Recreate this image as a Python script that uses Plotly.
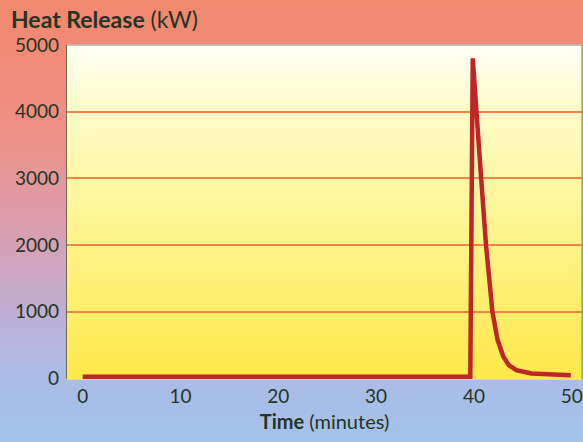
import plotly.graph_objects as go

# ---- data ----
time_min = [0, 39.63, 39.88, 40.23, 40.74, 41.24, 41.89, 42.42, 43.0, 43.57, 44.34, 45.86, 47.9, 49.9]
heat_kw = [25, 25, 4800, 4000, 3000, 2000, 1000, 580, 330, 200, 125, 75, 62, 50]
x_ticks = [0, 10, 20, 30, 40, 50]
y_ticks = [0, 1000, 2000, 3000, 4000, 5000]

W, H = 583, 442
L, R, T, B = 67, 1, 45, 63
PW, PH = W - L - R, H - T - B


def hex2rgb(h):
    h = h.lstrip('#')
    return tuple(int(h[i:i + 2], 16) for i in (0, 2, 4))


def interp(stops, f):
    for (p0, c0), (p1, c1) in zip(stops[:-1], stops[1:]):
        if p0 <= f <= p1:
            t = (f - p0) / (p1 - p0) if p1 > p0 else 0
            a, b = hex2rgb(c0), hex2rgb(c1)
            return 'rgb(%d,%d,%d)' % tuple(round(a[i] + (b[i] - a[i]) * t) for i in range(3))
    return stops[-1][1]


def bands(x0, x1, ytop, ybot, stops, n):
    out = []
    for i in range(n):
        f0 = i / n
        f1 = (i + 1) / n
        ya = ytop + (ybot - ytop) * f0
        yb = ytop + (ybot - ytop) * f1
        col = interp(stops, (f0 + f1) / 2)
        out.append(dict(type='rect', xref='paper', yref='paper', layer='below',
                        x0=x0, x1=x1, y0=ya + 0.002, y1=yb - 0.002,
                        fillcolor=col, line=dict(width=0)))
    return out


# page gradient (top -> bottom, fractions of page height)
page_stops = [(0.0, '#F2886E'), (0.30, '#EE9086'), (0.52, '#DA9EB0'), (0.70, '#C0AED2'),
              (0.85, '#AABCE6'), (1.0, '#A4C2EA')]
plot_stops = [(0.0, '#FFFFF6'), (0.18, '#FFFCCC'), (0.45, '#FFF6A0'), (0.75, '#FFEF70'), (1.0, '#FFE84A')]

shapes = []
page_top = 1 + T / PH
page_bot = -B / PH
shapes += bands(-L / PW, 1 + R / PW, page_top, page_bot, page_stops, 80)
shapes += bands(0, 1, 1, 0, plot_stops, 60)
# plot frame: top and right edges
shapes.append(dict(type='line', xref='paper', yref='paper', x0=0, x1=1, y0=1, y1=1,
                   line=dict(color='#8A8878', width=1.2), layer='above'))
shapes.append(dict(type='line', xref='paper', yref='paper', x0=1, x1=1, y0=0, y1=1,
                   line=dict(color='#6FB04A', width=1.2), layer='above'))

fig = go.Figure()
fig.add_trace(go.Scatter(x=time_min, y=heat_kw, mode='lines',
                         line=dict(color='#BE2628', width=4.5), cliponaxis=False,
                         hoverinfo='skip'))

font_main = 'Lato, Open Sans, sans-serif'
txt = '#263424'

fig.update_layout(
    width=W, height=H,
    margin=dict(l=L, r=R, t=T, b=B, pad=0),
    paper_bgcolor='rgba(0,0,0,0)',
    plot_bgcolor='rgba(0,0,0,0)',
    showlegend=False,
    shapes=shapes,
    font=dict(family=font_main, color=txt, size=19),
    title=dict(text='<b>Heat Release</b> (kW)', x=11 / W, xanchor='left', xref='container',
               y=1 - 20 / H, yanchor='middle', yref='container',
               font=dict(family=font_main, size=23, color=txt)),
    xaxis=dict(range=[-1.6, 51.05], tickvals=x_ticks, ticktext=[str(v) for v in x_ticks],
               showgrid=False, zeroline=False, showline=False, ticks='',
               ticklabelstandoff=4,
               title=dict(text='<b>Time</b> (minutes)', standoff=8,
                          font=dict(family=font_main, size=20, color=txt))),
    yaxis=dict(range=[-7.5, 5000], tickvals=y_ticks, ticktext=[str(v) for v in y_ticks],
               showgrid=True, gridcolor='#F2844A', gridwidth=1.5,
               zeroline=True, zerolinecolor='rgba(0,0,0,0)',
               showline=True, linecolor='#6E6E50', linewidth=1.2,
               ticks='', ticklabelstandoff=3),
)

fig.write_html('out.html')
